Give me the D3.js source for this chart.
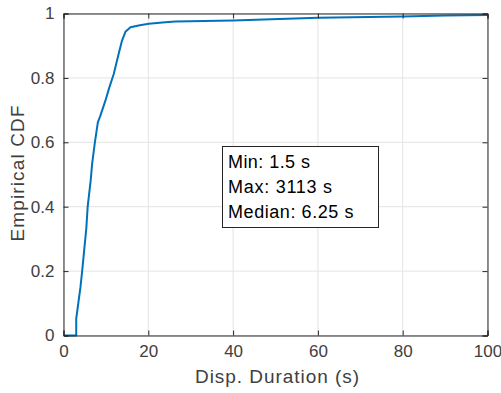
<!DOCTYPE html>
<html><head><meta charset="utf-8">
<script src="https://cdn.jsdelivr.net/npm/d3@7"></script>
<style>body{margin:0;background:#fff;overflow:hidden}svg{display:block}text{font-family:"Liberation Sans",Arial,Helvetica,sans-serif}</style>
</head><body><svg id="c" width="501" height="393"></svg>
<script>
// data
const durations = [0.3, 3.0, 3.0, 4.0, 4.4, 5.4, 5.7, 6.4, 6.75, 7.4, 8.1, 8.7, 9.9, 10.7, 11.85, 13.0, 13.8, 14.6, 15.8, 17.7, 20.1, 24, 26.4, 40, 60, 80, 90, 100];
const cdfValues = [0, 0, 0.052, 0.15, 0.20, 0.336, 0.40, 0.48, 0.533, 0.60, 0.662, 0.683, 0.73, 0.766, 0.812, 0.874, 0.916, 0.943, 0.957, 0.963, 0.968, 0.973, 0.975, 0.978, 0.987, 0.991, 0.994, 0.995];
const xTicks = [0, 20, 40, 60, 80, 100];
const yTicks = [0, 0.2, 0.4, 0.6, 0.8, 1];
const yTickLabels = ["0", "0.2", "0.4", "0.6", "0.8", "1"];
const statsLines = ["Min: 1.5 s", "Max: 3113 s", "Median: 6.25 s"];
const statsWidths = [82, 104, 125.5];

const svg = d3.select("#c");
const L = 63.5, R = 487.5, T = 13.5, B = 335.5;
const x = d3.scaleLinear().domain([0, 100]).range([L, R]);
const y = d3.scaleLinear().domain([0, 1]).range([B, T]);
const axisCol = "#262626";
const textCol = "#404040";

// grid
svg.append("g").selectAll("line.gx").data(xTicks).join("line")
  .attr("x1", d => x(d)).attr("x2", d => x(d)).attr("y1", T).attr("y2", B)
  .attr("stroke", "#e3e3e3").attr("stroke-width", 1);
svg.append("g").selectAll("line.gy").data(yTicks).join("line")
  .attr("y1", d => y(d)).attr("y2", d => y(d)).attr("x1", L).attr("x2", R)
  .attr("stroke", "#e3e3e3").attr("stroke-width", 1);

// curve
const pts = durations.map((d, i) => [d, cdfValues[i]]);
svg.append("path").datum(pts)
  .attr("d", d3.line().x(d => x(d[0])).y(d => y(d[1])))
  .attr("fill", "none").attr("stroke", "#0072BD").attr("stroke-width", 2).attr("stroke-linejoin", "round");

// axes
const xa = svg.append("g").attr("transform", `translate(0,${B})`)
  .call(d3.axisBottom(x).tickValues(xTicks).tickSize(-5).tickPadding(9).tickFormat(d3.format("d")));
const xt = svg.append("g").attr("transform", `translate(0,${T})`)
  .call(d3.axisTop(x).tickValues(xTicks).tickSize(-5).tickFormat(""));
const ya = svg.append("g").attr("transform", `translate(${L},0)`)
  .call(d3.axisLeft(y).tickValues(yTicks).tickSize(-5).tickPadding(9).tickFormat((d, i) => yTickLabels[i]));
const yr = svg.append("g").attr("transform", `translate(${R},0)`)
  .call(d3.axisRight(y).tickValues(yTicks).tickSize(-5).tickFormat(""));
[xa, xt, ya, yr].forEach(g => {
  g.selectAll("path,line").attr("stroke", axisCol);
  g.selectAll("text").attr("fill", textCol).style("font-size", "17px").style("font-family", "Liberation Sans, Arial, sans-serif");
});

// labels
svg.append("text").attr("x", x(50) + 1.5).attr("y", 383).attr("text-anchor", "middle")
  .attr("fill", textCol).style("font-size", "19px")
  .attr("textLength", 164).attr("lengthAdjust", "spacing").text("Disp. Duration (s)");
svg.append("text").attr("transform", `translate(24,173.5) rotate(-90)`).attr("text-anchor", "middle")
  .attr("fill", textCol).style("font-size", "19px")
  .attr("textLength", 136).attr("lengthAdjust", "spacing").text("Empirical CDF");

// stats box
svg.append("rect").attr("x", 222.5).attr("y", 146.5).attr("width", 156).attr("height", 81)
  .attr("fill", "#fff").attr("stroke", axisCol).attr("stroke-width", 1);
svg.append("g").selectAll("text").data(statsLines).join("text")
  .attr("x", 228).attr("y", (d, i) => 167.7 + i * 25)
  .attr("fill", "#000").style("font-size", "18px")
  .attr("textLength", (d, i) => statsWidths[i]).attr("lengthAdjust", "spacing").text(d => d);
</script></body></html>
